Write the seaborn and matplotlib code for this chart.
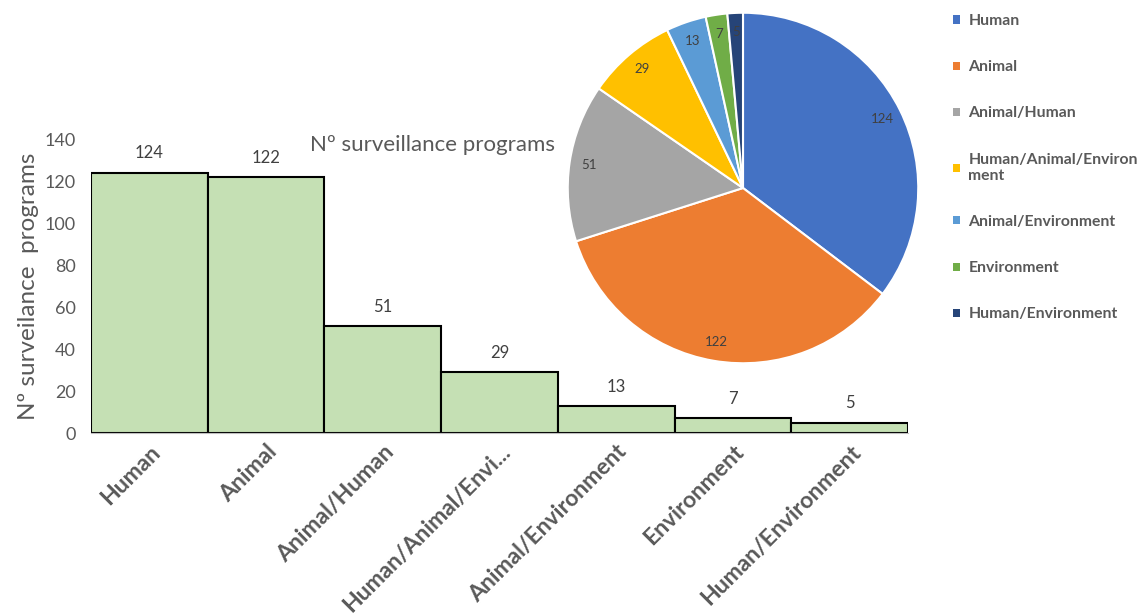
import matplotlib
matplotlib.use('Agg')
import matplotlib.pyplot as plt
import seaborn as sns
import pandas as pd
from matplotlib.patches import Patch

# Data
categories = ['Human', 'Animal', 'Animal/Human', 'Human/Animal/Environment',
              'Animal/Environment', 'Environment', 'Human/Environment']
tick_labels = ['Human', 'Animal', 'Animal/Human', 'Human/Animal/Envi...',
               'Animal/Environment', 'Environment', 'Human/Environment']
legend_labels = ['Human', 'Animal', 'Animal/Human', 'Human/Animal/Environ\nment',
                 'Animal/Environment', 'Environment', 'Human/Environment']
programs = [124, 122, 51, 29, 13, 7, 5]
pie_colors = ['#4472C4', '#ED7D31', '#A5A5A5', '#FFC000', '#5B9BD5', '#70AD47', '#264478']

sns.set_style('white')
plt.rcParams['font.family'] = ['Lato', 'DejaVu Sans']
grey = '#595959'

df = pd.DataFrame({'category': categories, 'programs': programs})

fig = plt.figure(figsize=(11.39, 6.15), dpi=100)

# Bar chart
ax = fig.add_axes([91/1139, 182/615, 817/1139, 294/615])
sns.barplot(data=df, x='category', y='programs', color='#C5E0B4', saturation=1,
            width=1.0, edgecolor='black', linewidth=1.5, ax=ax)
ax.set_ylim(0, 140)
ax.set_xlim(-0.5, len(categories) - 0.5)
ax.set_yticks(range(0, 141, 20))
ax.tick_params(axis='y', labelsize=13, labelcolor=grey, length=0, pad=11)
ax.set_xticks(range(len(categories)))
ax.set_xticklabels(tick_labels, rotation=45, ha='right', va='top',
                   rotation_mode='anchor', fontsize=16.5, fontweight='bold', color=grey)
ax.tick_params(axis='x', length=0, pad=6)
ax.set_xlabel('')
ax.set_ylabel('Nº surveilance  programs', fontsize=17.5, color=grey, labelpad=4)
for side in ['top', 'right', 'left']:
    ax.spines[side].set_visible(False)
ax.spines['bottom'].set_color('#BFBFBF')
ax.bar_label(ax.containers[0], padding=8, fontsize=12, color='#404040')
ax.set_facecolor('none')

fig.text(432/1139, 1 - 145/615, 'Nº surveillance programs', fontsize=16,
         color=grey, ha='center', va='center')

# Pie chart
pax = fig.add_axes([(743 - 177)/1139, (615 - 188 - 177)/615, 354/1139, 354/615])
wedges, texts, autotexts = pax.pie(
    programs, colors=pie_colors, startangle=90, counterclock=False,
    autopct=lambda p: f'{p * sum(programs) / 100:.0f}', pctdistance=0.89,
    wedgeprops=dict(edgecolor='white', linewidth=1.5))
for t in autotexts:
    t.set_fontsize(9.5)
    t.set_color('#404040')
pax.set_xlim(-1.01, 1.01)
pax.set_ylim(-1.01, 1.01)
pax.set_aspect('equal')

# Legend
handles = [Patch(facecolor=c, edgecolor='none') for c in pie_colors]
leg = fig.legend(handles, legend_labels, loc='upper left',
                 bbox_to_anchor=(939/1139, 1 - 0/615), frameon=False,
                 handlelength=0.42, handleheight=0.42, handletextpad=0.55,
                 labelspacing=2.05, prop={'size': 11.3, 'weight': 'bold'})
for t in leg.get_texts():
    t.set_color(grey)

plt.savefig('out.png', dpi=100)
